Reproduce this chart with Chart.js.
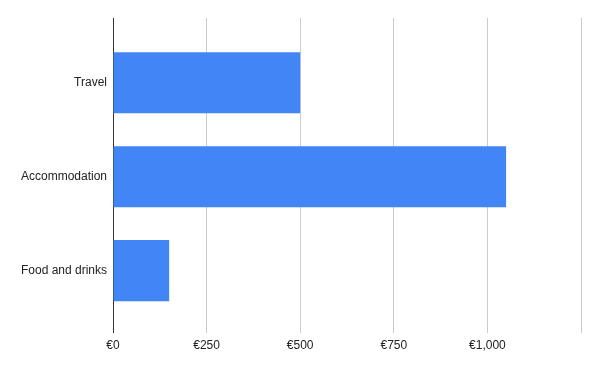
<!DOCTYPE html>
<html>
<head>
<meta charset="utf-8">
<script src="https://cdn.jsdelivr.net/npm/chart.js@4/dist/chart.umd.min.js"></script>
<style>
  html, body { margin: 0; padding: 0; background: #fff; }
  #wrap { width: 600px; height: 371px; }
</style>
</head>
<body>
<div id="wrap"><canvas id="chart"></canvas></div>
<script>
const categories = ["Travel", "Accommodation", "Food and drinks"];
const amounts = [500, 1050, 150];
const xTicks = [0, 250, 500, 750, 1000, 1250];
const xLabelled = [0, 250, 500, 750, 1000];

Chart.defaults.font.family = "'Liberation Sans', Arial, sans-serif";
Chart.defaults.font.size = 12;
Chart.defaults.color = "#222";

new Chart(document.getElementById("chart"), {
  type: "bar",
  data: {
    datasets: [{
      data: amounts.map((v, i) => ({ x: v, y: i })),
      backgroundColor: "#4285F4",
      borderWidth: 0,
      categoryPercentage: 1,
      barPercentage: 0.65
    }]
  },
  options: {
    indexAxis: "y",
    responsive: true,
    maintainAspectRatio: false,
    animation: false,
    layout: { padding: { top: 18, right: 19, bottom: 12, left: 0 } },
    plugins: { legend: { display: false }, tooltip: { enabled: false } },
    scales: {
      x: {
        type: "linear",
        min: 0,
        max: 1250,
        afterBuildTicks: s => { s.ticks = xTicks.map(v => ({ value: v })); },
        ticks: {
          padding: 6,
          maxRotation: 0,
          callback: v => xLabelled.includes(v) ? "€" + v.toLocaleString("en-US") : ""
        },
        grid: { color: "#cccccc", drawTicks: false },
        border: { display: false }
      },
      y: {
        type: "linear",
        bounds: "data",
        offset: false,
        reverse: true,
        min: -0.69,
        max: 2.66,
        afterBuildTicks: s => { s.ticks = categories.map((c, i) => ({ value: i })); },
        afterFit: s => { s.width = 113; },
        ticks: {
          padding: 6,
          callback: v => categories[v] ?? ""
        },
        grid: { display: false, drawTicks: false, offset: false },
        border: { display: true, color: "#333333", width: 1 }
      }
    }
  }
});
</script>
</body>
</html>
